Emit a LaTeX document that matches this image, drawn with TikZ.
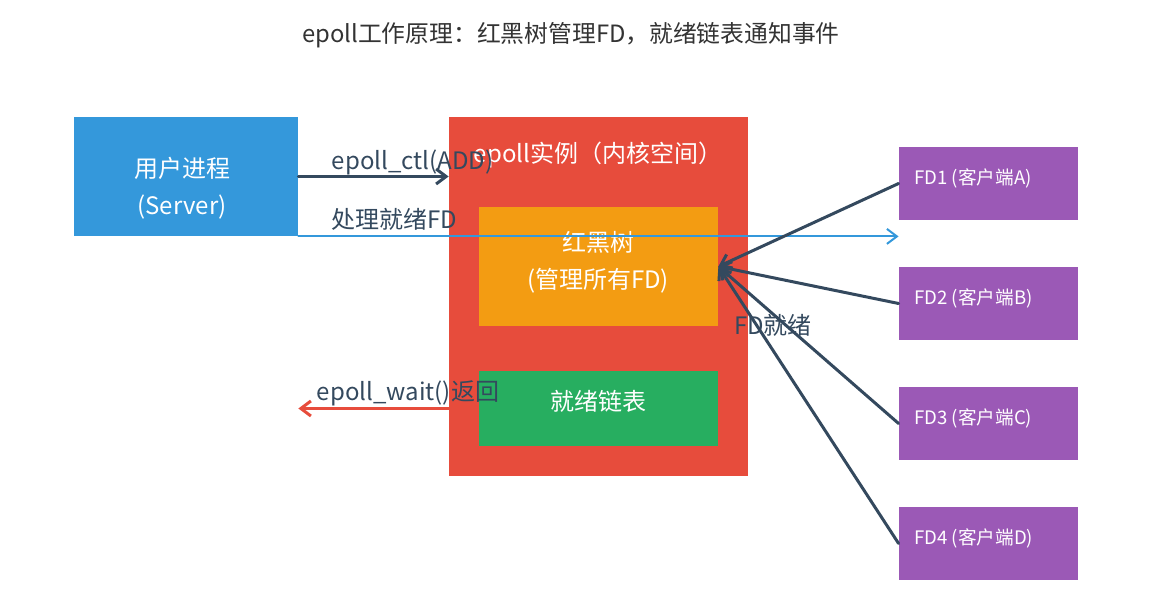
\documentclass[tikz,border=0pt]{standalone}
\usepackage{fontspec}
\setmainfont{Noto Sans CJK SC}
\usetikzlibrary{arrows.meta}
\definecolor{cblue}{HTML}{3498DB}
\definecolor{cred}{HTML}{E74C3C}
\definecolor{corange}{HTML}{F39C12}
\definecolor{cgreen}{HTML}{27AE60}
\definecolor{cpurple}{HTML}{9B59B6}
\definecolor{cdark}{HTML}{34495E}
\definecolor{ctitle}{HTML}{333333}
\tikzset{
  box/.style={draw=none, inner sep=0pt},
  boxtext/.style={inner sep=0pt, text=white, align=center, font=\fontsize{12}{18.5}\selectfont},
  fdtext/.style={inner sep=0pt, text=white, anchor=west, font=\fontsize{9.3}{11}\selectfont},
  elabel/.style={inner sep=0pt, text=cdark, font=\fontsize{12}{14}\selectfont},
  darr/.style={draw=cdark, line width=1.5pt, -{Straight Barb[length=5pt,width=7.5pt]}},
}
\begin{document}
\begin{tikzpicture}[x=0.5pt, y=-0.5pt, line cap=round, line join=round]
\useasboundingbox (0,0) rectangle (1162,593);
\node[inner sep=0pt, text=ctitle, font=\fontsize{11.9}{14}\selectfont] (title) at (571,35) {epoll工作原理：红黑树管理FD，就绪链表通知事件};
% boxes
\node[box, fill=cblue, minimum width=112pt, minimum height=59.5pt] (user) at (186,176.5) {};
\node[box, fill=cred, minimum width=149.5pt, minimum height=179.5pt] (ep) at (598.5,296.5) {};
\node[box, fill=corange, minimum width=119.5pt, minimum height=59.5pt] (rbt) at (598.5,266.5) {};
\node[box, fill=cgreen, minimum width=119.5pt, minimum height=37.5pt] (list) at (598.5,408.5) {};
\foreach \i/\c in {1/A,2/B,3/C,4/D}{
  \node[box, fill=cpurple, minimum width=89.5pt, minimum height=36.5pt] (fd\i) at (988.5,63.5+120*\i) {};
  \node[fdtext] (fdtxt\i) at (914,58+120*\i) {FD\i\ (客户端\c)};
}
% box texts
\node[boxtext] (usertxt) at (182,188.5) {用户进程\\(Server)};
\node[boxtext] (eptitle) at (598,155) {epoll实例（内核空间）};
\node[boxtext] (rbttxt) at (598,262) {红黑树\\(管理所有FD)};
\node[boxtext] (listtxt) at (598,401) {就绪链表};
% connectors
\draw[darr] (user.east) -- (user.east -| ep.west)
  node[elabel, pos=0, anchor=base west, xshift=16pt, yshift=3.5pt] {epoll\_ctl(ADD)};
\draw[draw=cblue, line width=1pt, -{Straight Barb[length=5pt,width=7.5pt]}] (user.south east) -- (user.south east -| fd1.west)
  node[elabel, pos=0, anchor=base west, xshift=16pt, yshift=4pt] {处理就绪FD};
\draw[draw=cred, line width=1.5pt, -{Straight Barb[length=5pt,width=7.5pt]}] (list.west -| ep.west) -- (list.west -| user.east)
  node[elabel, pos=1, anchor=base west, xshift=8.5pt, yshift=4pt] {epoll\_wait()返回};
\foreach \i in {1,...,4}
  \draw[darr] (fd\i.west) -- (rbt.east);
\node[elabel] (fdready) at (773,325) {FD就绪};
\end{tikzpicture}
\end{document}
